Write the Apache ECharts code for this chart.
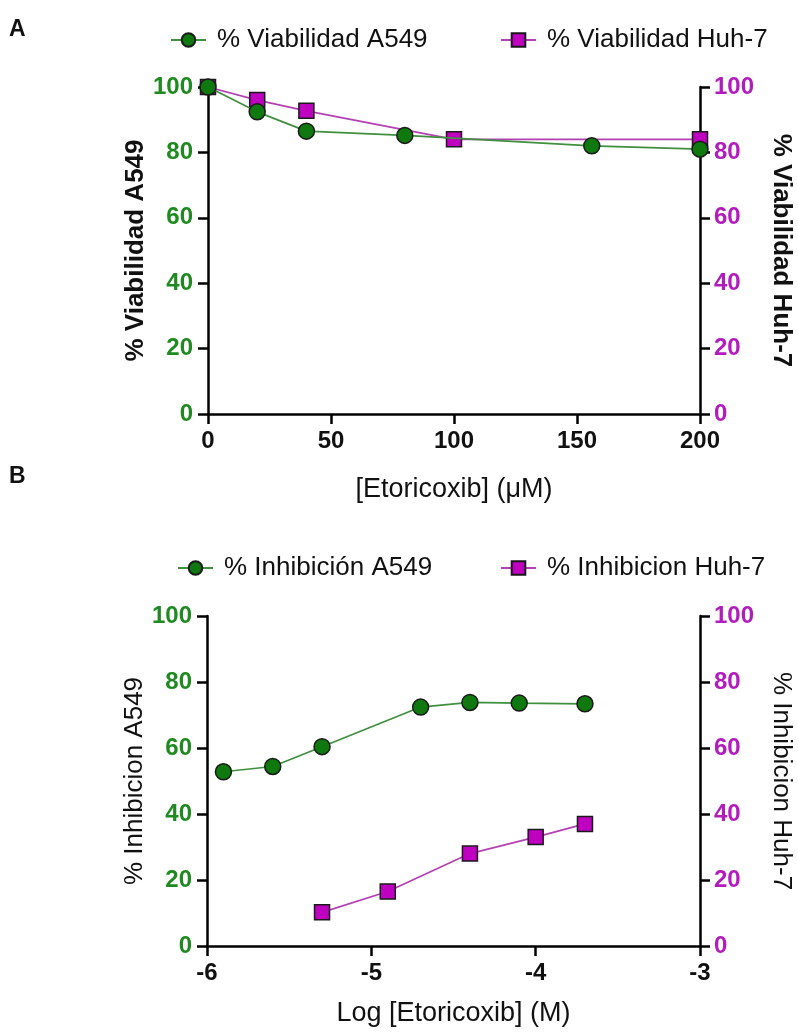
<!DOCTYPE html>
<html>
<head>
<meta charset="utf-8">
<script src="https://cdn.jsdelivr.net/npm/echarts@6/dist/echarts.min.js"></script>
<style>
  html, body { margin: 0; padding: 0; background: #fff; }
  #chart { width: 798px; height: 1033px; }
</style>
</head>
<body>
<div id="chart"></div>
<script>
// Panel A: viabilidad vs concentración (µM)
const concA549 = [0, 20, 40, 80, 156, 200]
const viabA549 = [100, 92.4, 86.5, 85.2, 82, 81]
const concHuh7 = [0, 20, 40, 100, 200]
const viabHuh7 = [100, 96, 92.7, 84, 84]

// Panel B: inhibición vs log concentración (M)
const logA549 = [-5.9, -5.6, -5.3, -4.7, -4.4, -4.1, -3.7]
const inhA549 = [52.8, 54.4, 60.4, 72.4, 73.8, 73.6, 73.4]
const logHuh7 = [-5.3, -4.9, -4.4, -4.0, -3.7]
const inhHuh7 = [10.2, 16.5, 28, 33, 37]

const GREEN = '#1f8a1f'
const GREEN_FILL = '#0f780f'
const GREEN_LINE = '#3f8f3f'
const MAGENTA = '#b21cbc'
const MAGENTA_FILL = '#c000c0'
const MAGENTA_LINE = '#b440b4'
const FONT = '"Liberation Sans", Arial, sans-serif'

const zip = (xs, ys) => xs.map((x, i) => [x, ys[i]])

let chart = echarts.init(document.getElementById('chart'))

const axisLine = { show: true, onZero: false, lineStyle: { color: '#000', width: 2.5 } }
const axisTick = { show: true, inside: false, length: 10, lineStyle: { color: '#000', width: 2.5 } }

function yAxisCfg(grid, pos, name, color, bold) {
  let left = pos === 'left'
  return {
    type: 'value', gridIndex: grid, position: pos,
    min: 0, max: 100, interval: 20,
    axisLine: axisLine, axisTick: axisTick, splitLine: { show: false },
    axisLabel: { color: color, fontWeight: 'bold', fontSize: 24, fontFamily: FONT, margin: left ? 15 : 14 },
    name: name, nameLocation: 'middle',
    nameRotate: left ? 90 : -90,
    nameGap: left ? 59 : 68,
    nameMoveOverlap: false,
    nameTextStyle: { color: '#111', fontSize: 26, fontWeight: bold ? 'bold' : 'normal', fontFamily: FONT }
  }
}

function xAxisCfg(grid, min, max, interval, name, gap) {
  return {
    type: 'value', gridIndex: grid, min: min, max: max, interval: interval,
    axisLine: axisLine, axisTick: axisTick, splitLine: { show: false },
    axisLabel: { color: '#111', fontWeight: 'bold', fontSize: 24, fontFamily: FONT, margin: 15 },
    name: name, nameLocation: 'middle', nameGap: gap,
    nameTextStyle: { color: '#111', fontSize: 27, fontFamily: FONT }
  }
}

function lineSeries(name, xi, yi, data, symbol, fill, line) {
  return {
    name: name, type: 'line', xAxisIndex: xi, yAxisIndex: yi,
    data: data, symbol: symbol, symbolSize: symbol === 'circle' ? 16 : 15,
    lineStyle: { color: line, width: 1.7 },
    itemStyle: { color: fill, borderColor: '#1a1a1a', borderWidth: 1.5 },
    z: symbol === 'circle' ? 3 : 2,
    animation: false
  }
}

function legendCfg(name, left, top) {
  return {
    data: [name], left: left, top: top,
    itemWidth: 35, itemHeight: 17,
    textStyle: { fontSize: 26, fontFamily: FONT, color: '#111', padding: [0, 0, 0, 6] }
  }
}

let options = {
  backgroundColor: '#fff',
  animation: false,
  grid: [
    { left: 208, right: 98, top: 87, height: 327, outerBoundsMode: 'none' },
    { left: 207, right: 98, top: 616, height: 330, outerBoundsMode: 'none' }
  ],
  xAxis: [
    xAxisCfg(0, 0, 200, 50, '[Etoricoxib] (μM)', 62),
    xAxisCfg(1, -6, -3, 1, 'Log [Etoricoxib] (M)', 54)
  ],
  yAxis: [
    yAxisCfg(0, 'left', '% Viabilidad A549', GREEN, true),
    yAxisCfg(0, 'right', '% Viabilidad Huh-7', MAGENTA, true),
    yAxisCfg(1, 'left', '% Inhibicion A549', GREEN, false),
    yAxisCfg(1, 'right', '% Inhibicion Huh-7', MAGENTA, false)
  ],
  legend: [
    legendCfg('% Viabilidad A549', 165, 22),
    legendCfg('% Viabilidad Huh-7', 495, 22),
    legendCfg('% Inhibición A549', 172, 550),
    legendCfg('% Inhibicion Huh-7', 495, 550)
  ],
  graphic: [
    { type: 'text', left: 9, top: 18, style: { text: 'A', fontSize: 23, fontWeight: 'bold', fontFamily: FONT, fill: '#111' } },
    { type: 'text', left: 9, top: 465, style: { text: 'B', fontSize: 23, fontWeight: 'bold', fontFamily: FONT, fill: '#111' } }
  ],
  series: [
    lineSeries('% Viabilidad Huh-7', 0, 1, zip(concHuh7, viabHuh7), 'rect', MAGENTA_FILL, MAGENTA_LINE),
    lineSeries('% Viabilidad A549', 0, 0, zip(concA549, viabA549), 'circle', GREEN_FILL, GREEN_LINE),
    lineSeries('% Inhibicion Huh-7', 1, 3, zip(logHuh7, inhHuh7), 'rect', MAGENTA_FILL, MAGENTA_LINE),
    lineSeries('% Inhibición A549', 1, 2, zip(logA549, inhA549), 'circle', GREEN_FILL, GREEN_LINE)
  ]
}
chart.setOption(options)
</script>
</body>
</html>
